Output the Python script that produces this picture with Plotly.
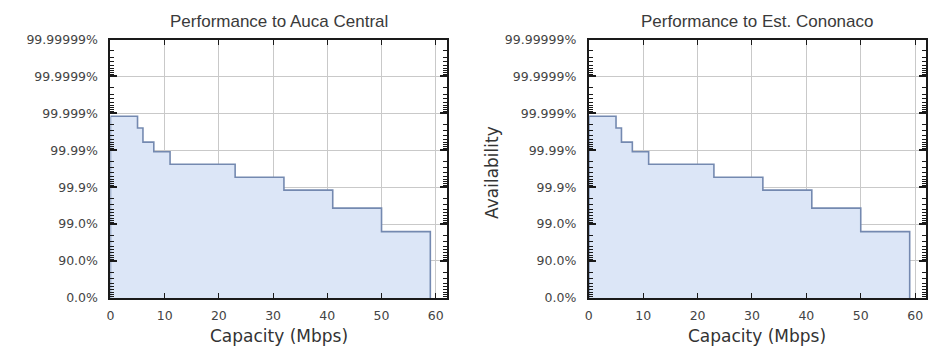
import plotly.graph_objects as go

# Link capacity steps (Mbps) and the availability reached up to each step (%)
capacity_mbps = [0, 5, 6, 8, 11, 23, 32, 41, 50, 59]
auca_availability = [99.9988, 99.9975, 99.994, 99.989, 99.976, 99.946, 99.88, 99.63, 98.4]
cononaco_availability = [99.9988, 99.9975, 99.994, 99.989, 99.976, 99.946, 99.88, 99.63, 98.4]

# Availability axis ticks
tick_availability = [0.0, 90.0, 99.0, 99.9, 99.99, 99.999, 99.9999, 99.99999]
tick_labels = ["0.0%", "90.0%", "99.0%", "99.9%", "99.99%", "99.999%", "99.9999%", "99.99999%"]
x_ticks = [0, 10, 20, 30, 40, 50, 60]
minor_multipliers = [2, 3, 4, 5, 6, 7, 8, 9]

titles = ["Performance to Auca Central", "Performance to Est. Cononaco"]

FILL = "#dce6f7"
LINE = "#7489b0"
FRAME = "#1a1a1a"
GRID = "#c9c9c9"
TEXT = "#333333"


def unavailability(values):
    return [round(1 - v / 100, 10) for v in values]


def step_trace(avail, xa, ya):
    u = unavailability(avail)
    xs = [capacity_mbps[0]] + capacity_mbps + [capacity_mbps[-1]]
    ys = [1.0] + u + [u[-1], 1.0]
    return go.Scatter(
        x=xs, y=ys, mode="lines", line=dict(shape="hv", color=LINE, width=1.6),
        fill="toself", fillcolor=FILL, xaxis=xa, yaxis=ya, hoverinfo="skip",
        showlegend=False,
    )


fig = go.Figure()
fig.add_trace(step_trace(auca_availability, "x", "y"))
fig.add_trace(step_trace(cononaco_availability, "x2", "y2"))

W, H = 928, 347
y_dom = [1 - 303 / H, 1 - 33 / H]
x_doms = [[107 / W, 445 / W], [588 / W, 927 / W]]

tick_font = dict(family="DejaVu Sans", size=12.5, color="#444444")

# Log minor ticks (2..9 per decade)
decades = [10.0 ** -d for d in range(1, 8)]
minor_vals = [m * d for d in decades for m in minor_multipliers]

xaxis_common = dict(
    range=[0, 62], tickvals=x_ticks, ticks="inside", ticklen=5, tickwidth=1.4,
    tickcolor=FRAME, showline=True, linecolor=FRAME, linewidth=2, mirror="ticks",
    showgrid=True, gridcolor=GRID, gridwidth=1, zeroline=False, tickfont=tick_font,
    ticklabelstandoff=5,
)
yaxis_common = dict(
    type="log", range=[0, -7], tickmode="array",
    tickvals=unavailability(tick_availability), ticktext=tick_labels,
    ticks="inside", ticklen=7, tickwidth=1.6, tickcolor=FRAME,
    minor=dict(tickmode="array", tickvals=minor_vals, ticks="inside", ticklen=4,
               tickwidth=1.2, tickcolor=FRAME, showgrid=False),
    showline=True, linecolor=FRAME, linewidth=2, mirror="allticks",
    showgrid=True, gridcolor=GRID, gridwidth=1, zeroline=False, tickfont=tick_font,
    ticklabelstandoff=8,
)

fig.update_layout(
    width=W, height=H, margin=dict(l=0, r=0, t=0, b=0),
    paper_bgcolor="white", plot_bgcolor="white",
    xaxis=dict(domain=x_doms[0], anchor="y", **xaxis_common),
    yaxis=dict(domain=y_dom, anchor="x", **yaxis_common),
    xaxis2=dict(domain=x_doms[1], anchor="y2", **xaxis_common),
    yaxis2=dict(domain=y_dom, anchor="x2", **yaxis_common),
)

annotations = []
for i, dom in enumerate(x_doms):
    cx = (dom[0] + dom[1]) / 2
    annotations.append(dict(
        text=titles[i], x=cx, y=1 - 14 / H, xref="paper", yref="paper",
        xanchor="center", yanchor="middle", showarrow=False,
        font=dict(family="Liberation Sans", size=17, color="#3a3a3a"),
    ))
    annotations.append(dict(
        text="Capacity (Mbps)", x=cx, y=1 - 343 / H, xref="paper", yref="paper",
        xanchor="center", yanchor="middle", showarrow=False,
        font=dict(family="DejaVu Sans", size=17, color=TEXT),
    ))
annotations.append(dict(
    text="Availability", x=490 / W, y=1 - 172 / H, xref="paper", yref="paper",
    xanchor="center", yanchor="middle", textangle=-90, showarrow=False,
    font=dict(family="DejaVu Sans", size=17, color=TEXT),
))
fig.update_layout(annotations=annotations)

fig.write_html("out.html", config={"displayModeBar": False})
